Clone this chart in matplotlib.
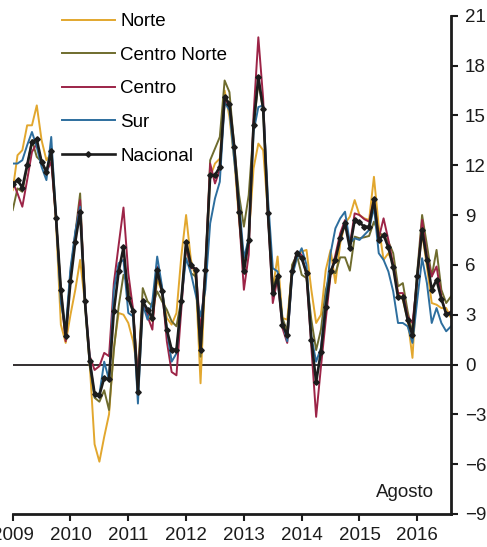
import numpy as np
import matplotlib
matplotlib.use("Agg")
import matplotlib.pyplot as plt

plt.rcParams['font.family'] = ['Liberation Sans', 'DejaVu Sans']

years = ['2009', '2010', '2011', '2012', '2013', '2014', '2015', '2016']

norte = [10.5, 12.6, 12.9, 14.4, 14.4, 15.6, 13.5, 12.3, 12.7, 8.5, 2.4, 1.3,
         3.0, 4.5, 6.3, 3.7, 0.0, -4.8, -5.85, -4.35, -3.0, 1.0, 3.1, 3.0,
         2.5, 1.4, -0.5, 3.9, 3.0, 2.6, 5.1, 4.4, 2.8, 2.4, 3.1, 6.5,
         9.0, 6.3, 5.2, -1.13, 5.5, 11.3, 12.1, 12.4, 16.5, 14.9, 12.3, 8.7,
         5.7, 7.6, 11.8, 13.3, 12.9, 9.1, 4.6, 6.5, 2.8, 2.7, 5.6, 6.6,
         6.8, 6.9, 4.5, 2.5, 3.0, 5.7, 6.9, 4.9, 7.3, 8.5, 8.9, 9.9,
         9.0, 8.8, 8.7, 11.3, 8.3, 6.3, 6.7, 6.1, 4.3, 3.9, 2.7, 0.4,
         5.3, 7.9, 5.9, 3.7, 3.6, 3.4, 3.4, 2.8]

centro_norte = [9.3, 10.6, 10.4, 11.9, 13.5, 12.5, 12.2, 11.6, 12.7, 8.8, 4.5, 1.6,
                5.5, 7.9, 10.3, 3.7, -0.1, -2.0, -2.24, -1.55, -2.74, 0.87, 3.5, 5.4,
                4.8, 3.2, -0.7, 4.6, 3.8, 3.5, 4.4, 3.8, 3.3, 2.6, 2.3, 3.9,
                7.2, 5.5, 5.3, 0.47, 5.7, 12.3, 13.0, 13.7, 17.1, 16.4, 13.1, 10.2,
                8.3, 10.2, 14.2, 17.0, 15.3, 9.0, 4.6, 5.4, 2.8, 2.0, 6.0, 6.6,
                5.4, 5.2, 2.7, 0.87, 2.1, 4.5, 5.6, 5.5, 6.45, 6.45, 5.65, 7.7,
                7.6, 7.66, 7.74, 8.6, 7.9, 7.8, 7.4, 6.7, 4.7, 4.9, 3.2, 1.9,
                5.6, 9.0, 7.2, 5.3, 6.9, 4.5, 3.7, 4.1]

centro = [11.0, 10.3, 9.5, 11.1, 12.8, 13.3, 12.2, 11.6, 12.2, 8.8, 4.3, 1.4,
          5.5, 7.8, 9.9, 3.9, 0.5, -0.33, -0.1, 0.7, 0.5, 4.9, 7.2, 9.45,
          5.5, 3.3, -1.0, 3.9, 2.9, 2.1, 5.9, 4.6, 1.4, -0.45, -0.65, 3.3,
          7.2, 5.8, 5.8, 1.9, 5.7, 12.1, 10.9, 11.7, 15.9, 15.6, 13.0, 8.9,
          4.5, 6.6, 15.0, 19.7, 16.0, 9.0, 3.7, 5.2, 2.2, 1.3, 5.6, 6.8,
          6.6, 5.4, 1.07, -3.15, -0.13, 2.7, 5.4, 6.6, 7.9, 8.7, 7.2, 9.1,
          9.0, 8.75, 8.6, 9.95, 7.6, 8.8, 7.5, 6.0, 4.3, 4.3, 2.9, 2.5,
          5.1, 8.7, 6.5, 5.3, 5.9, 4.1, 3.0, 3.2]

sur = [12.1, 12.1, 12.3, 13.2, 14.0, 13.1, 11.9, 11.1, 13.7, 8.9, 3.7, 2.1,
       5.8, 8.0, 9.5, 3.8, 0.3, -1.94, -1.8, 0.17, -0.93, 4.5, 6.1, 6.3,
       3.1, 2.9, -2.35, 3.6, 2.7, 3.8, 6.5, 4.7, 2.1, 0.17, 0.67, 3.9,
       6.4, 5.5, 4.2, 2.9, 4.5, 8.5, 10.0, 11.0, 15.8, 15.3, 12.3, 9.8,
       6.4, 7.6, 14.0, 15.5, 15.6, 10.0, 5.8, 5.6, 2.5, 1.4, 5.3, 6.4,
       7.0, 6.0, 1.7, 0.17, 1.0, 3.9, 6.7, 8.2, 8.8, 9.2, 7.3, 7.6,
       7.5, 7.8, 8.1, 9.5, 6.7, 6.3, 5.6, 4.4, 2.5, 2.5, 2.3, 1.3,
       3.9, 6.4, 4.9, 2.5, 3.4, 2.5, 2.0, 2.3]

nacional = [10.85, 11.1, 10.65, 12.0, 13.4, 13.55, 12.2, 11.6, 12.85, 8.85, 4.5, 1.7,
            5.0, 7.4, 9.2, 3.8, 0.2, -1.75, -1.85, -0.8, -0.9, 3.2, 5.6, 7.05,
            4.0, 3.2, -1.65, 3.8, 3.3, 2.8, 5.7, 4.4, 2.1, 0.9, 0.9, 3.8,
            7.4, 6.0, 5.7, 0.87, 5.7, 11.4, 11.4, 11.9, 16.1, 15.7, 13.1, 9.2,
            5.6, 7.5, 14.4, 17.3, 15.4, 9.1, 4.3, 5.3, 2.4, 1.75, 5.6, 6.7,
            6.4, 5.5, 1.5, -1.05, 0.77, 3.45, 5.6, 6.3, 7.6, 8.5, 7.0, 8.7,
            8.55, 8.3, 8.3, 9.95, 7.5, 7.8, 7.05, 5.85, 4.05, 4.05, 2.7, 1.75,
            5.35, 8.1, 6.3, 4.5, 5.1, 3.95, 3.05, 3.1]

series = [('Norte', norte, '#E2A72E'),
          ('Centro Norte', centro_norte, '#6F6C2E'),
          ('Centro', centro, '#9C2447'),
          ('Sur', sur, '#2D6E9E')]

W, H = 487, 547
fig = plt.figure(figsize=(W / 100, H / 100), dpi=100)
ax = fig.add_axes([12.7 / W, 1 - 514 / H, (451 - 12.7) / W, (514 - 15.7) / H])

x = np.arange(len(nacional))
for name, vals, col in series:
    ax.plot(x, vals, color=col, lw=1.4, label=name)
ax.plot(x, nacional, color='#1c1c1c', lw=1.9, marker='D', markersize=2.8,
        label='Nacional')

ax.axhline(0, color='#231f20', lw=1.3, zorder=1)

ax.set_xlim(0, len(nacional) - 1)
ax.set_ylim(-9, 21)
ax.set_yticks(range(-9, 22, 3))
ax.set_xticks(np.arange(len(years)) * 12)
ax.set_xticklabels(years)
ax.yaxis.tick_right()
for s in ['left', 'top']:
    ax.spines[s].set_visible(False)
for s in ['right', 'bottom']:
    ax.spines[s].set_linewidth(2)
    ax.spines[s].set_color('#1c1c1c')
ax.tick_params(axis='both', direction='out', length=5, width=1.5,
               labelsize=13.5, colors='#1c1c1c')
ax.tick_params(axis='y', pad=5)
ax.tick_params(axis='x', pad=4)

leg = ax.legend(loc='upper left', bbox_to_anchor=(62 / W, 1 - 13 / H),
                bbox_transform=fig.transFigure, frameon=False, fontsize=13.5,
                handlelength=2.8, handletextpad=0.3, labelspacing=0.88,
                borderpad=0, borderaxespad=0)

fig.text(405 / W, 1 - 492.5 / H, 'Agosto', ha='center', va='center',
         fontsize=13.5, color='#1c1c1c')

fig.savefig('out.png', dpi=100)
